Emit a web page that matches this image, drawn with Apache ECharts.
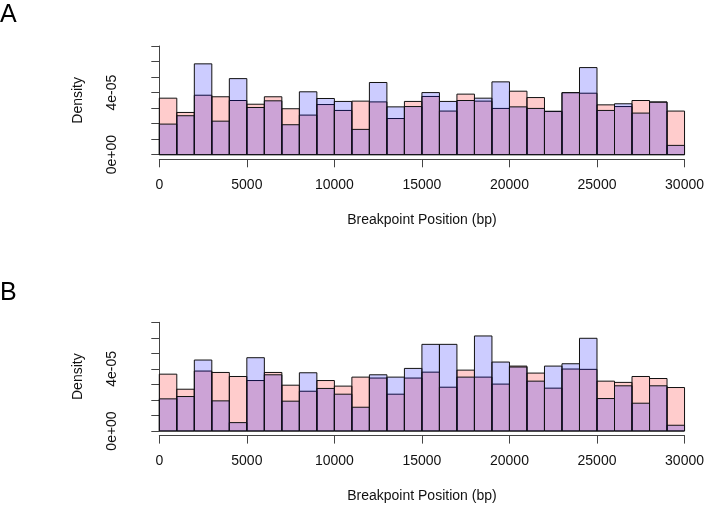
<!DOCTYPE html>
<html><head><meta charset="utf-8">
<script src="https://cdn.jsdelivr.net/npm/echarts@6/dist/echarts.min.js"></script>
<style>html,body{margin:0;padding:0;background:#fff}#c{width:707px;height:505px}</style>
</head><body><div id="c"></div>
<script>
// bin starts (bp), width 1000
var binStarts = [0,1000,2000,3000,4000,5000,6000,7000,8000,9000,10000,11000,12000,13000,14000,15000,16000,17000,18000,19000,20000,21000,22000,23000,24000,25000,26000,27000,28000,29000];
var binWidth = 1000;
// Panel A densities (x1e-05)
var redA  = [3.64,2.72,3.83,3.73,3.49,3.25,3.73,2.96,2.55,3.23,2.85,3.45,3.40,2.33,3.43,3.75,2.81,3.90,3.45,2.98,4.09,3.68,2.78,3.99,3.96,3.21,3.10,3.49,3.40,2.81];
var blueA = [1.97,2.51,5.85,2.16,4.90,3.04,3.47,1.93,4.05,3.62,3.43,1.63,4.65,3.08,3.10,4.00,3.43,3.49,3.64,4.69,3.08,2.98,2.80,4.00,5.61,2.85,3.28,2.68,3.38,0.60];
// Panel B densities (x1e-05)
var redB  = [3.66,2.69,3.86,3.77,3.51,3.25,3.77,2.95,2.56,3.25,2.89,3.47,3.41,2.37,3.41,3.79,2.82,3.92,3.47,3.02,4.18,3.73,2.76,3.99,3.97,3.21,3.13,3.51,3.38,2.80];
var blueB = [2.07,2.22,4.57,1.94,0.54,4.72,3.62,1.92,3.75,2.74,2.37,1.53,3.62,3.47,4.03,5.58,5.58,3.47,6.12,4.44,4.12,3.21,4.18,4.33,5.97,2.09,2.91,1.79,2.91,0.37];
var xTicks = [0,5000,10000,15000,20000,25000,30000];
var yLabeled = ['0e+00','4e-05'];
var scale = 1e-5;

function toData(arr){ return binStarts.map(function(s,i){ return [s, s+binWidth, arr[i]*scale]; }); }
function renderBin(params, api){
  var p1 = api.coord([api.value(0), api.value(2)]);
  var p2 = api.coord([api.value(1), 0]);
  return {type:'rect', shape:{x:p1[0], y:p1[1], width:p2[0]-p1[0], height:p2[1]-p1[1]},
    style:{fill:api.visual('color'), stroke:'#111', lineWidth:1}};
}
var font = 'Liberation Sans, Arial, Helvetica, sans-serif';
function xAx(gi){
  return {gridIndex:gi, type:'value', min:0, max:30000, interval:5000, offset:4.6,
    axisLine:{show:true, onZero:false, lineStyle:{color:'#444', width:1}},
    axisTick:{show:true, length:8, lineStyle:{color:'#444'}},
    splitLine:{show:false},
    axisLabel:{color:'#111', fontSize:14, fontFamily:font, margin:19, showMinLabel:true, showMaxLabel:true,
      formatter:function(v){ var i = xTicks.indexOf(Math.round(v)); return i>=0 ? String(xTicks[i]) : ''; }},
    name:'Breakpoint Position (bp)', nameLocation:'middle', nameGap:54,
    nameTextStyle:{color:'#111', fontSize:14, fontFamily:font}};
}
function yAx(gi){
  return {gridIndex:gi, type:'value', min:0, max:7e-5, interval:1e-5, offset:22,
    axisLine:{show:true, lineStyle:{color:'#444', width:1}},
    axisTick:{show:true, length:8, lineStyle:{color:'#444'}},
    splitLine:{show:false},
    axisLabel:{color:'#111', fontSize:14, fontFamily:font, rotate:90, margin:18,
      formatter:function(v){ var k=Math.round(v/scale); if(k===0) return yLabeled[0]; if(k===4) return yLabeled[1]; return ''; }},
    name:'Density', nameLocation:'middle', nameGap:52, nameRotate:90,
    nameTextStyle:{color:'#111', fontSize:14, fontFamily:font}};
}
var chart = echarts.init(document.getElementById('c'), null, {renderer:'canvas'});
chart.setOption({
  animation:false,
  backgroundColor:'#fff',
  title:[
    {text:'A', left:0, top:3, padding:0, textStyle:{fontSize:25, fontWeight:'normal', color:'#000', fontFamily:font}},
    {text:'B', left:0, top:281, padding:0, textStyle:{fontSize:25, fontWeight:'normal', color:'#000', fontFamily:font}}
  ],
  grid:[
    {left:159.3, right:20.3, top:46, bottom:350.3},
    {left:159.3, right:20.3, top:322.3, bottom:74}
  ],
  xAxis:[xAx(0), xAx(1)],
  yAxis:[yAx(0), yAx(1)],
  series:[
    {type:'custom', xAxisIndex:0, yAxisIndex:0, renderItem:renderBin, itemStyle:{color:'rgba(255,0,0,0.2)'}, data:toData(redA), encode:{x:[0,1], y:2}},
    {type:'custom', xAxisIndex:0, yAxisIndex:0, renderItem:renderBin, itemStyle:{color:'rgba(0,0,255,0.2)'}, data:toData(blueA), encode:{x:[0,1], y:2}},
    {type:'custom', xAxisIndex:1, yAxisIndex:1, renderItem:renderBin, itemStyle:{color:'rgba(255,0,0,0.2)'}, data:toData(redB), encode:{x:[0,1], y:2}},
    {type:'custom', xAxisIndex:1, yAxisIndex:1, renderItem:renderBin, itemStyle:{color:'rgba(0,0,255,0.2)'}, data:toData(blueB), encode:{x:[0,1], y:2}}
  ]
});
</script></body></html>
